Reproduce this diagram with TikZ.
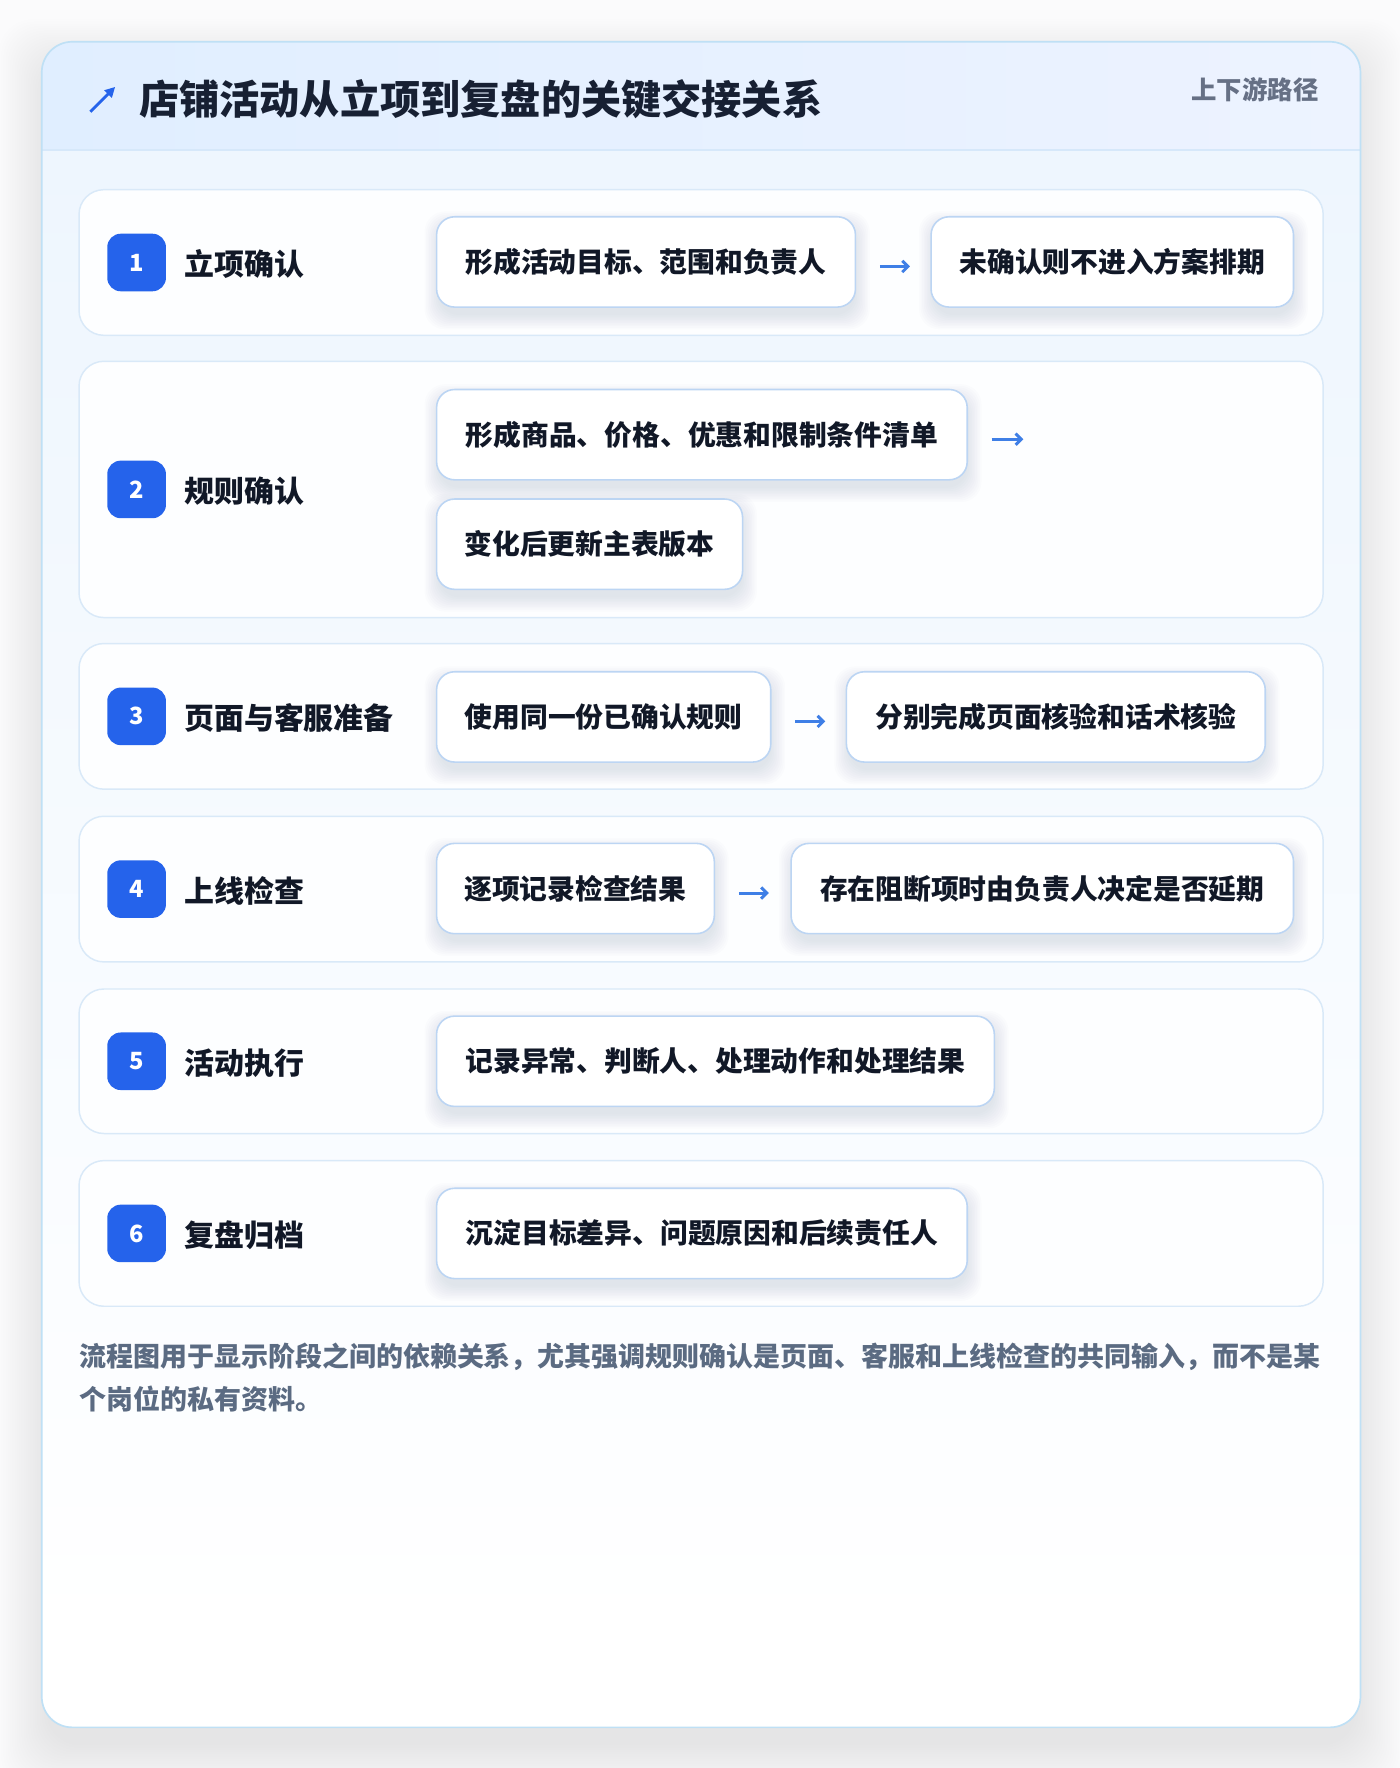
\documentclass[tikz,border=0pt]{standalone}
\usepackage{fontspec}
\setmainfont{Noto Sans CJK SC}
\usetikzlibrary{arrows.meta,calc}
\definecolor{pagebg}{HTML}{FBFBFC}
\definecolor{cardborder}{HTML}{BFE0F5}
\definecolor{hdrL}{HTML}{E0EEFF}
\definecolor{hdrR}{HTML}{EDF3FF}
\definecolor{hdrline}{HTML}{D6E8FA}
\definecolor{bodyT}{HTML}{EEF6FE}
\definecolor{rowborder}{HTML}{D9E9F8}
\definecolor{rowfill}{HTML}{FDFEFF}
\definecolor{iborder}{HTML}{BCD5F3}
\definecolor{badgec}{HTML}{2563EB}
\definecolor{titlec}{HTML}{172033}
\definecolor{txtc}{HTML}{111827}
\definecolor{grayc}{HTML}{667085}
\definecolor{footc}{HTML}{5B6B82}
\definecolor{arrc}{HTML}{3F7FE6}
\definecolor{shadc}{HTML}{3A4660}
\pgfdeclarelayer{bgl}
\pgfdeclarelayer{shl}
\pgfsetlayers{bgl,shl,main}
\tikzset{
  rowbox/.style={draw=rowborder, line width=1.3pt, fill=rowfill, rounded corners=22pt,
    minimum width=1102pt, inner sep=0pt},
  badge/.style={fill=badgec, rounded corners=12pt, minimum width=52pt, minimum height=51pt,
    inner sep=0pt, text=white, font=\fontsize{21}{21}\selectfont\bfseries},
  lbl/.style={anchor=west, inner sep=0pt, text=txtc, font=\fontsize{26.5}{26.5}\selectfont\bfseries},
  ibox/.style={draw=iborder, line width=1.4pt, fill=white, rounded corners=16pt,
    minimum height=80pt, inner sep=0pt, anchor=west, text=txtc,
    font=\fontsize{24.6}{24.6}\selectfont\bfseries},
  flowline/.style={draw=arrc, line width=2.6pt, -{Straight Barb[length=5pt,width=10pt]}},
}
\newcommand{\boxshadow}[1]{%
  \begin{pgfonlayer}{shl}
  \foreach \i in {1,...,10}{%
    \fill[shadc, opacity=0.012, rounded corners=18pt]
      ($(#1.north west)+(-1.4*\i+4,-1.4*\i+10)$) rectangle ($(#1.south east)+(1.4*\i-2,1.4*\i+5)$);}
  \end{pgfonlayer}}
\begin{document}
\begin{tikzpicture}[x=1pt,y=-1pt]
\useasboundingbox (0,0) rectangle (1240,1566);
\begin{pgfonlayer}{bgl}
\fill[pagebg] (0,0) rectangle (1240,1566);
% card shadow
\foreach \i in {1,...,22}{%
  \fill[shadc, opacity=0.0045, rounded corners=30pt]
    (37-2*\i+6,37-2*\i+24) rectangle (1205+2*\i-6,1530+2*\i+14);}
% card
\fill[white, rounded corners=27pt] (37,37) rectangle (1205,1530);
\begin{scope}
\clip[rounded corners=27pt] (37,37) rectangle (1205,1530);
\shade[top color=bodyT, bottom color=white] (37,133) rectangle (1205,1450);
\shade[left color=hdrL, right color=hdrR] (37,37) rectangle (1205,133);
\end{scope}
\draw[hdrline, line width=1.2pt] (37,133) -- (1205,133);
\draw[cardborder, line width=1.5pt, rounded corners=27pt] (37,37) rectangle (1205,1530);
% rows
\node[rowbox, minimum height=129pt] (r1) at (621,232.5) {};
\node[rowbox, minimum height=227pt] (r2) at (621,433.5) {};
\node[rowbox, minimum height=129pt] (r3) at (621,634.5) {};
\node[rowbox, minimum height=129pt] (r4) at (621,787.5) {};
\node[rowbox, minimum height=128pt] (r5) at (621,940) {};
\node[rowbox, minimum height=129pt] (r6) at (621,1092.5) {};
\end{pgfonlayer}
% header
\draw[badgec, line width=2.6pt, -{Triangle[length=9pt,width=9pt]}] (80,99) -- (102,77);
\node[anchor=west, inner sep=0pt, text=titlec, font=\fontsize{35.6}{35.6}\selectfont\bfseries] (title) at (123,88) {店铺活动从立项到复盘的关键交接关系};
\node[anchor=east, inner sep=0pt, text=grayc, font=\fontsize{22.5}{22.5}\selectfont\bfseries] (path) at (1168,79) {上下游路径};
% badges and labels
\node[badge] (b1) at (121,232.5) {1};
\node[lbl] (l1) at (163,234) {立项确认};
\node[badge] (b2) at (121,433.5) {2};
\node[lbl] (l2) at (163,435) {规则确认};
\node[badge] (b3) at (121,634.5) {3};
\node[lbl] (l3) at (163,636) {页面与客服准备};
\node[badge] (b4) at (121,787.5) {4};
\node[lbl] (l4) at (163,789) {上线检查};
\node[badge] (b5) at (121,940) {5};
\node[lbl] (l5) at (163,941.5) {活动执行};
\node[badge] (b6) at (121,1092.5) {6};
\node[lbl] (l6) at (163,1094) {复盘归档};
% row 1
\node[ibox, minimum width=371pt] (a1) at (386,232) {形成活动目标、范围和负责人};
\node[ibox, minimum width=321pt] (c1) at (824,232) {未确认则不进入方案排期};
% row 2
\node[ibox, minimum width=470pt] (a2) at (386,385) {形成商品、价格、优惠和限制条件清单};
\coordinate (e2) at ($(a2.east)+(49,4)$);
\node[ibox, minimum width=271pt] (c2) at (386,482) {变化后更新主表版本};
% row 3
\node[ibox, minimum width=296pt] (a3) at (386,635) {使用同一份已确认规则};
\node[ibox, minimum width=371pt] (c3) at (749,635) {分别完成页面核验和话术核验};
% row 4
\node[ibox, minimum width=246pt] (a4) at (386,787) {逐项记录检查结果};
\node[ibox, minimum width=445pt] (c4) at (700,787) {存在阻断项时由负责人决定是否延期};
% row 5
\node[ibox, minimum width=494pt] (a5) at (386,940) {记录异常、判断人、处理动作和处理结果};
% row 6
\node[ibox, minimum width=470pt] (a6) at (386,1092.5) {沉淀目标差异、问题原因和后续责任人};
\boxshadow{a1}\boxshadow{c1}\boxshadow{a2}\boxshadow{c2}\boxshadow{a3}\boxshadow{c3}
\boxshadow{a4}\boxshadow{c4}\boxshadow{a5}\boxshadow{a6}
% connectors
\draw[flowline] ($(a1.east)+(21,4)$) -- ($(c1.west)+(-18,4)$);
\draw[flowline] ($(a2.east)+(21,4)$) -- (e2);
\draw[flowline] ($(a3.east)+(21,4)$) -- ($(c3.west)+(-18,4)$);
\draw[flowline] ($(a4.east)+(21,4)$) -- ($(c4.west)+(-19,4)$);
% footer
\node[anchor=north west, inner sep=0pt, text=footc, align=left,
  font=\fontsize{23.9}{38}\selectfont\bfseries] (foot) at (70,1189)
  {流程图用于显示阶段之间的依赖关系，尤其强调规则确认是页面、客服和上线检查的共同输入，而不是某\\个岗位的私有资料。};
\end{tikzpicture}
\end{document}
